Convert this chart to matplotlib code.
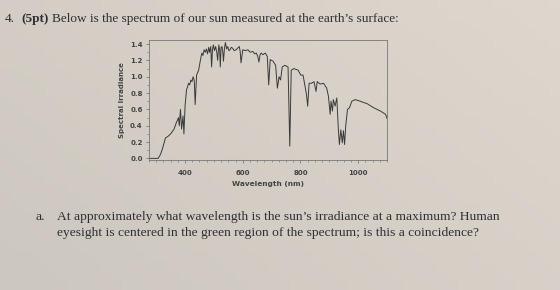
import matplotlib.pyplot as plt
import numpy as np
from matplotlib.ticker import MultipleLocator

# solar spectrum at the surface
wavelength = [275, 307, 315, 321, 332, 341, 350, 356, 362, 366, 370, 374, 377,
              380, 384, 388, 393, 396, 400, 405, 409, 412, 416, 420, 424, 428,
              432, 435, 440, 447, 452, 458, 462, 466, 470, 474, 478, 482, 485,
              489, 492, 495, 498, 502, 506, 510, 513, 517, 520, 522, 525, 528,
              531, 533, 537, 540, 544, 548, 552, 556, 560, 565, 570, 577, 582,
              588, 591, 594, 600, 609, 618, 626, 635, 641, 647, 652, 656, 660,
              664, 670, 678, 685, 690, 695, 705, 714, 720, 726, 731, 737, 746,
              757, 763, 768, 777, 792, 801, 809, 815, 821, 825, 830, 839, 847,
              854, 858, 868, 880, 891, 897, 903, 906, 911, 914, 920, 926, 931,
              935, 940, 945, 949, 953, 957, 963, 970, 978, 990, 1007, 1031,
              1054, 1077, 1095, 1100]
irradiance = [0.0, 0.0, 0.05, 0.11, 0.25, 0.27, 0.30, 0.33, 0.36, 0.40, 0.44,
              0.47, 0.50, 0.40, 0.60, 0.36, 0.52, 0.30, 0.64, 0.84, 0.88, 0.92,
              0.90, 0.96, 0.94, 1.00, 0.95, 0.66, 1.02, 1.08, 1.18, 1.29, 1.26,
              1.33, 1.30, 1.34, 1.28, 1.36, 1.30, 1.37, 1.12, 1.33, 1.39, 1.32,
              1.37, 1.30, 1.20, 1.39, 1.33, 1.12, 1.36, 1.37, 1.30, 1.19, 1.36,
              1.42, 1.34, 1.37, 1.32, 1.33, 1.36, 1.35, 1.32, 1.33, 1.35, 1.37,
              1.31, 1.17, 1.33, 1.32, 1.33, 1.30, 1.31, 1.28, 1.29, 1.25, 1.18,
              1.27, 1.29, 1.27, 1.29, 1.25, 0.90, 1.21, 1.19, 1.14, 0.86, 1.00,
              0.96, 1.12, 1.14, 1.12, 0.15, 1.08, 1.10, 1.08, 1.02, 1.02, 0.90,
              0.78, 0.64, 0.92, 0.92, 0.94, 0.82, 0.94, 0.91, 0.92, 0.86, 0.76,
              0.54, 0.70, 0.58, 0.72, 0.64, 0.74, 0.38, 0.17, 0.35, 0.19, 0.34,
              0.17, 0.40, 0.60, 0.62, 0.70, 0.72, 0.70, 0.67, 0.62, 0.58, 0.54,
              0.49]

part_a = ["At approximately what wavelength is the sun\u2019s irradiance at a maximum? Human",
          "eyesight is centered in the green region of the spectrum; is this a coincidence?"]

paper = '#dbd5cc'
ink = '#2e2e33'
serif = 'Liberation Serif'

fig = plt.figure(figsize=(5.6, 2.9), dpi=100, facecolor=paper)

# photographed page: a little darker towards the bottom left
bg = fig.add_axes([0, 0, 1, 1], zorder=-10)
gx, gy = np.meshgrid(np.linspace(0, 1, 50), np.linspace(0, 1, 30))
shade = 0.6 * gx + 0.4 * gy
top = np.array([223, 215, 206]) / 255
low = np.array([204, 199, 191]) / 255
img = low + (top - low) * shade[..., None]
bg.imshow(img, origin='lower', aspect='auto', extent=[0, 1, 0, 1])
bg.axis('off')

fig.text(5 / 560, 1 - 19 / 290, "4.", fontsize=9.5, family=serif, color=ink,
         va='center')
fig.text(21 / 560, 1 - 19 / 290, "(5pt)", fontsize=9.5, family=serif,
         fontweight='bold', color=ink, va='center')
fig.text(52 / 560, 1 - 19 / 290,
         "Below is the spectrum of our sun measured at the earth\u2019s surface:",
         fontsize=9.5, family=serif, color=ink, va='center')
fig.text(36 / 560, 1 - 217 / 290, "a.", fontsize=9.7, family=serif,
         color=ink, va='center')
for i, line in enumerate(part_a):
    fig.text(57 / 560, 1 - (217 + 16 * i) / 290, line, fontsize=9.7,
             family=serif, color=ink, va='center')

ax = fig.add_axes([149 / 560, 1 - 160 / 290, 238 / 560, 120 / 290])
ax.set_facecolor('none')
ax.plot(wavelength, irradiance, color='#3a3a3a', lw=0.7)

ax.set_xlim(275, 1100)
ax.set_ylim(-0.02, 1.45)
ax.xaxis.set_minor_locator(MultipleLocator(25))
ax.yaxis.set_minor_locator(MultipleLocator(0.1))
ax.set_xticks([400, 600, 800, 1000])
ax.set_yticks([0.0, 0.2, 0.4, 0.6, 0.8, 1.0, 1.2, 1.4])
ax.set_yticklabels(['0.0', '0.2', '0.4', '0.6', '0.8', '1.0', '1.2', '1.4'])
ax.tick_params(which='major', length=2.5, width=0.5, color='#666666',
               labelsize=5, labelcolor='#444444')
ax.tick_params(axis='x', which='major', pad=5)
ax.tick_params(axis='y', which='major', pad=2)
ax.tick_params(which='minor', length=1.5, width=0.4, color='#666666')
for lbl in ax.get_xticklabels() + ax.get_yticklabels():
    lbl.set_fontweight('bold')
for sp in ax.spines.values():
    sp.set_color('#777777')
    sp.set_linewidth(0.6)

ax.set_xlabel('Wavelength (nm)', fontsize=5.3, fontweight='bold',
              color='#444444', labelpad=3)
ax.set_ylabel('Spectral Irradiance', fontsize=5, fontweight='bold',
              color='#444444', labelpad=4)

fig.savefig('out.png', dpi=100, facecolor=paper)
